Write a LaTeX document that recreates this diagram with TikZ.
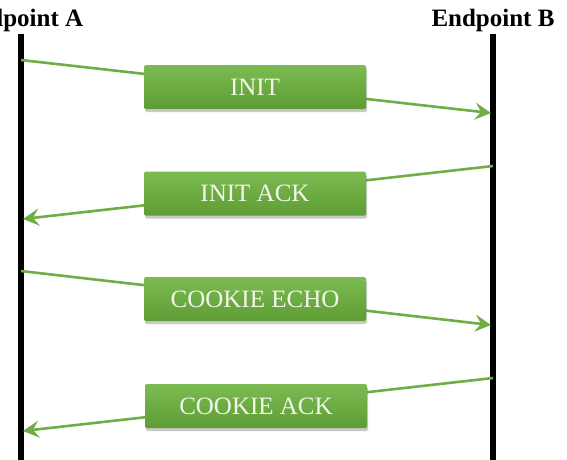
\documentclass[tikz,border=0pt]{standalone}
\usepackage{fontspec}
\setmainfont{Liberation Serif}
\usetikzlibrary{arrows.meta,shadows}
\definecolor{lgreen}{RGB}{112,173,71}
\definecolor{gtop}{RGB}{124,187,82}
\definecolor{gbot}{RGB}{94,157,52}
\definecolor{gtext}{RGB}{242,246,234}
\tikzset{
  msgbox/.style={rectangle, rounded corners=1.5pt, minimum width=222pt, minimum height=44pt,
    top color=gtop, bottom color=gbot, draw=none, text=gtext, inner sep=0pt,
    font=\fontsize{25}{30}\selectfont,
    drop shadow={shadow xshift=1pt, shadow yshift=-3pt, opacity=0.35, fill=black!60}},
  lifeline/.style={line width=5.5pt, black},
  msg/.style={line width=2.6pt, lgreen, -{Stealth[length=16pt,width=17pt,inset=6pt]}},
  title/.style={font=\fontsize{25}{30}\selectfont\bfseries, inner sep=0pt, anchor=base}
}
\begin{document}
\begin{tikzpicture}[x=1pt,y=-1pt]
\useasboundingbox (0,0) rectangle (567,459);
\node[title] (ta) at (21,26) {Endpoint A};
\node[title] (tb) at (493,26) {Endpoint B};
\coordinate (atop) at (21,34);
\coordinate (abot) at (21,462);
\coordinate (btop) at (493,34);
\coordinate (bbot) at (493,462);
\draw[lifeline] (atop) -- (abot);
\draw[lifeline] (btop) -- (bbot);
% message endpoints
\coordinate (a1) at (21,60);   \coordinate (b1) at (491,113);
\coordinate (b2) at (493,166); \coordinate (a2) at (23,219);
\coordinate (a3) at (21,271);  \coordinate (b3) at (491,325);
\coordinate (b4) at (493,378); \coordinate (a4) at (23,431);
\draw[msg] (a1) -- (b1);
\draw[msg] (b2) -- (a2);
\draw[msg] (a3) -- (b3);
\draw[msg] (b4) -- (a4);
\node[msgbox] (m1) at (255,87) {INIT};
\node[msgbox] (m2) at (255,193.5) {INIT ACK};
\node[msgbox] (m3) at (255,299) {COOKIE ECHO};
\node[msgbox] (m4) at (256,406) {COOKIE ACK};
\end{tikzpicture}
\end{document}
